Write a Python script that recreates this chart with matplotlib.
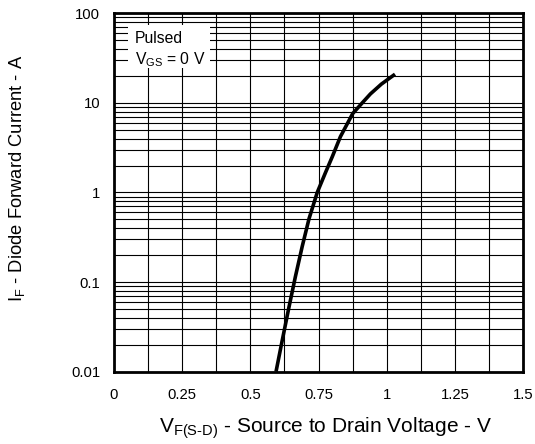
import numpy as np
import matplotlib
matplotlib.use("Agg")
import matplotlib.pyplot as plt
from matplotlib.patches import Rectangle
from matplotlib.ticker import FixedLocator, LogLocator, NullFormatter

plt.rcParams["font.family"] = ["Liberation Sans", "DejaVu Sans"]
plt.rcParams["mathtext.fontset"] = "custom"
plt.rcParams["mathtext.rm"] = "Liberation Sans"

# Diode forward curve
vsd = [0.594, 0.615, 0.640, 0.665, 0.690, 0.715, 0.745, 0.775, 0.800,
       0.830, 0.875, 0.910, 0.940, 0.980, 1.030]
i_f = [0.01, 0.021, 0.05, 0.115, 0.25, 0.51, 1.0, 1.66, 2.5,
       4.2, 7.6, 10.0, 12.6, 16.2, 20.9]

x_ticks = [0, 0.25, 0.5, 0.75, 1, 1.25, 1.5]
x_tick_labels = ["0", "0.25", "0.5", "0.75", "1", "1.25", "1.5"]
y_ticks = [0.01, 0.1, 1, 10, 100]
y_tick_labels = ["0.01", "0.1", "1", "10", "100"]

fig = plt.figure(figsize=(5.35, 4.44), dpi=100)
ax = fig.add_axes([0.213, 0.163, 0.765, 0.807])

ax.set_yscale("log")
ax.set_xlim(0, 1.5)
ax.set_ylim(0.01, 100)

ax.set_xticks(x_ticks)
ax.set_xticklabels(x_tick_labels)
ax.xaxis.set_minor_locator(FixedLocator(np.arange(0, 1.5001, 0.125)))
ax.set_yticks(y_ticks)
ax.set_yticklabels(y_tick_labels)
ax.yaxis.set_minor_locator(LogLocator(base=10, subs=np.arange(2, 10)))
ax.yaxis.set_minor_formatter(NullFormatter())

ax.grid(True, which="both", axis="both", color="black", linewidth=0.8)
ax.tick_params(which="both", length=0)
ax.tick_params(axis="x", pad=12, labelsize=10.7)
ax.tick_params(axis="y", pad=10, labelsize=10.7)

for sp in ax.spines.values():
    sp.set_linewidth(2)

ax.plot(vsd, i_f, color="black", linewidth=2.6, solid_capstyle="butt", zorder=3)

# condition box (white patch hides the grid)
ax.add_patch(Rectangle((0.034, 0.8475), 0.201, 0.120, transform=ax.transAxes,
                       facecolor="white", edgecolor="none", zorder=2.5))
ax.text(0.0506, 0.917, "Pulsed", transform=ax.transAxes, fontsize=11.3,
        va="baseline", ha="left", zorder=4)
ax.text(0.0506, 0.858, "V$_{\\mathregular{GS}}$ = 0 V", transform=ax.transAxes,
        fontsize=11.3, va="baseline", ha="left", zorder=4)

fig.text(0.608, 0.0347, "V$_{\\mathregular{F(S\\text{-}D)}}$ - Source to Drain Voltage - V",
         fontsize=15, ha="center", va="center")
fig.text(0.032, 0.598, "I$_{\\mathregular{F}}$ - Diode Forward Current - A",
         fontsize=13.2, ha="center", va="center", rotation=90)

fig.savefig("out.png", dpi=100)
